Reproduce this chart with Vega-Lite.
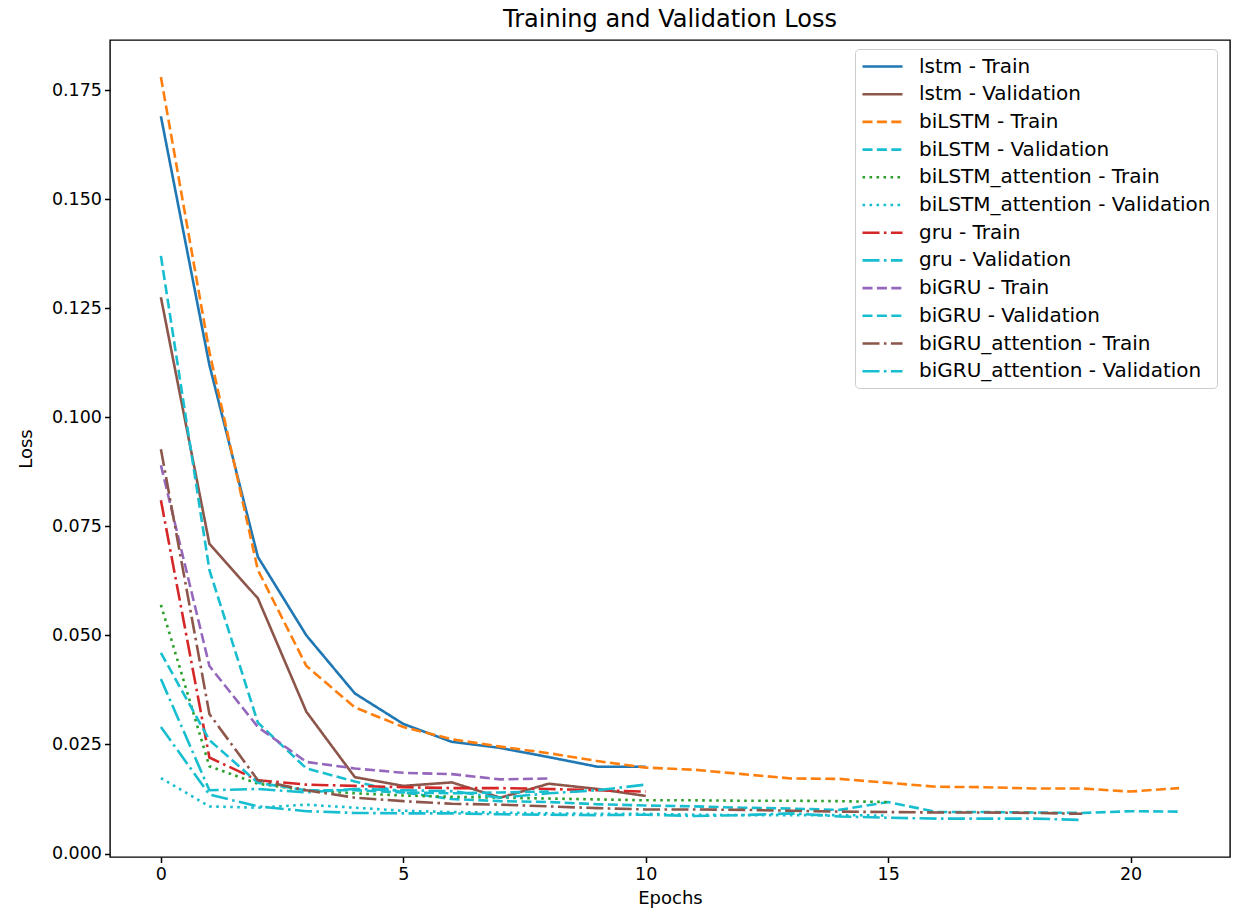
{
  "$schema": "https://vega.github.io/schema/vega-lite/v6.json",
  "width": 1120,
  "height": 817,
  "autosize": {"type": "none"},
  "padding": {"left": 110, "top": 40, "right": 3, "bottom": 58},
  "background": "white",
  "title": {"text": "Training and Validation Loss", "fontSize": 24, "fontWeight": "normal", "font": "DejaVu Sans", "color": "black", "offset": 8},
  "config": {
    "view": {"stroke": "black", "strokeWidth": 1.4},
    "axis": {"domain": false, "grid": false, "ticks": true, "tickColor": "black", "tickSize": 5.5, "tickWidth": 1.5, "labelFont": "DejaVu Sans", "labelFontSize": 17.5, "labelColor": "black", "labelPadding": 3, "titleFont": "DejaVu Sans", "titleFontSize": 18, "titleFontWeight": "normal", "titleColor": "black"},
    "legend": {"labelFont": "DejaVu Sans", "labelFontSize": 20, "labelColor": "black", "labelLimit": 500}
  },
  "data": {"values": [
    {"series":"lstm - Train","epoch":0,"loss":0.169},{"series":"lstm - Train","epoch":1,"loss":0.112},{"series":"lstm - Train","epoch":2,"loss":0.068},{"series":"lstm - Train","epoch":3,"loss":0.050},{"series":"lstm - Train","epoch":4,"loss":0.0367},{"series":"lstm - Train","epoch":5,"loss":0.0297},{"series":"lstm - Train","epoch":6,"loss":0.0256},{"series":"lstm - Train","epoch":7,"loss":0.0242},{"series":"lstm - Train","epoch":8,"loss":0.0221},{"series":"lstm - Train","epoch":9,"loss":0.0199},{"series":"lstm - Train","epoch":10,"loss":0.0199},
    {"series":"lstm - Validation","epoch":0,"loss":0.1275},{"series":"lstm - Validation","epoch":1,"loss":0.071},{"series":"lstm - Validation","epoch":2,"loss":0.0585},{"series":"lstm - Validation","epoch":3,"loss":0.0325},{"series":"lstm - Validation","epoch":4,"loss":0.0175},{"series":"lstm - Validation","epoch":5,"loss":0.0155},{"series":"lstm - Validation","epoch":6,"loss":0.0163},{"series":"lstm - Validation","epoch":7,"loss":0.0128},{"series":"lstm - Validation","epoch":8,"loss":0.016},{"series":"lstm - Validation","epoch":9,"loss":0.0148},{"series":"lstm - Validation","epoch":10,"loss":0.0132},
    {"series":"biLSTM - Train","epoch":0,"loss":0.178},{"series":"biLSTM - Train","epoch":1,"loss":0.115},{"series":"biLSTM - Train","epoch":2,"loss":0.065},{"series":"biLSTM - Train","epoch":3,"loss":0.043},{"series":"biLSTM - Train","epoch":4,"loss":0.0335},{"series":"biLSTM - Train","epoch":5,"loss":0.029},{"series":"biLSTM - Train","epoch":6,"loss":0.0262},{"series":"biLSTM - Train","epoch":7,"loss":0.0245},{"series":"biLSTM - Train","epoch":8,"loss":0.023},{"series":"biLSTM - Train","epoch":9,"loss":0.0212},{"series":"biLSTM - Train","epoch":10,"loss":0.0197},{"series":"biLSTM - Train","epoch":11,"loss":0.0192},{"series":"biLSTM - Train","epoch":12,"loss":0.0182},{"series":"biLSTM - Train","epoch":13,"loss":0.0172},{"series":"biLSTM - Train","epoch":14,"loss":0.0171},{"series":"biLSTM - Train","epoch":15,"loss":0.0162},{"series":"biLSTM - Train","epoch":16,"loss":0.0153},{"series":"biLSTM - Train","epoch":17,"loss":0.0152},{"series":"biLSTM - Train","epoch":18,"loss":0.0149},{"series":"biLSTM - Train","epoch":19,"loss":0.0149},{"series":"biLSTM - Train","epoch":20,"loss":0.0142},{"series":"biLSTM - Train","epoch":21,"loss":0.015},
    {"series":"biLSTM - Validation","epoch":0,"loss":0.137},{"series":"biLSTM - Validation","epoch":1,"loss":0.065},{"series":"biLSTM - Validation","epoch":2,"loss":0.030},{"series":"biLSTM - Validation","epoch":3,"loss":0.0195},{"series":"biLSTM - Validation","epoch":4,"loss":0.0165},{"series":"biLSTM - Validation","epoch":5,"loss":0.014},{"series":"biLSTM - Validation","epoch":6,"loss":0.0125},{"series":"biLSTM - Validation","epoch":7,"loss":0.012},{"series":"biLSTM - Validation","epoch":8,"loss":0.0118},{"series":"biLSTM - Validation","epoch":9,"loss":0.0113},{"series":"biLSTM - Validation","epoch":10,"loss":0.011},{"series":"biLSTM - Validation","epoch":11,"loss":0.0108},{"series":"biLSTM - Validation","epoch":12,"loss":0.0105},{"series":"biLSTM - Validation","epoch":13,"loss":0.0103},{"series":"biLSTM - Validation","epoch":14,"loss":0.01},{"series":"biLSTM - Validation","epoch":15,"loss":0.0118},{"series":"biLSTM - Validation","epoch":16,"loss":0.0095},{"series":"biLSTM - Validation","epoch":17,"loss":0.0095},{"series":"biLSTM - Validation","epoch":18,"loss":0.0094},{"series":"biLSTM - Validation","epoch":19,"loss":0.0093},{"series":"biLSTM - Validation","epoch":20,"loss":0.0097},{"series":"biLSTM - Validation","epoch":21,"loss":0.0096},
    {"series":"biLSTM_attention - Train","epoch":0,"loss":0.057},{"series":"biLSTM_attention - Train","epoch":1,"loss":0.02},{"series":"biLSTM_attention - Train","epoch":2,"loss":0.016},{"series":"biLSTM_attention - Train","epoch":3,"loss":0.0145},{"series":"biLSTM_attention - Train","epoch":4,"loss":0.0138},{"series":"biLSTM_attention - Train","epoch":5,"loss":0.0133},{"series":"biLSTM_attention - Train","epoch":6,"loss":0.013},{"series":"biLSTM_attention - Train","epoch":7,"loss":0.0128},{"series":"biLSTM_attention - Train","epoch":8,"loss":0.0126},{"series":"biLSTM_attention - Train","epoch":9,"loss":0.0124},{"series":"biLSTM_attention - Train","epoch":10,"loss":0.0122},{"series":"biLSTM_attention - Train","epoch":11,"loss":0.0122},{"series":"biLSTM_attention - Train","epoch":12,"loss":0.0121},{"series":"biLSTM_attention - Train","epoch":13,"loss":0.0121},{"series":"biLSTM_attention - Train","epoch":14,"loss":0.012},{"series":"biLSTM_attention - Train","epoch":15,"loss":0.0118},
    {"series":"biLSTM_attention - Validation","epoch":0,"loss":0.0173},{"series":"biLSTM_attention - Validation","epoch":1,"loss":0.0108},{"series":"biLSTM_attention - Validation","epoch":2,"loss":0.0105},{"series":"biLSTM_attention - Validation","epoch":3,"loss":0.0112},{"series":"biLSTM_attention - Validation","epoch":4,"loss":0.0105},{"series":"biLSTM_attention - Validation","epoch":5,"loss":0.0098},{"series":"biLSTM_attention - Validation","epoch":6,"loss":0.0095},{"series":"biLSTM_attention - Validation","epoch":7,"loss":0.0094},{"series":"biLSTM_attention - Validation","epoch":8,"loss":0.0092},{"series":"biLSTM_attention - Validation","epoch":9,"loss":0.0091},{"series":"biLSTM_attention - Validation","epoch":10,"loss":0.0091},{"series":"biLSTM_attention - Validation","epoch":11,"loss":0.0089},{"series":"biLSTM_attention - Validation","epoch":12,"loss":0.0088},{"series":"biLSTM_attention - Validation","epoch":13,"loss":0.0088},{"series":"biLSTM_attention - Validation","epoch":14,"loss":0.0088},{"series":"biLSTM_attention - Validation","epoch":15,"loss":0.0087},
    {"series":"gru - Train","epoch":0,"loss":0.081},{"series":"gru - Train","epoch":1,"loss":0.022},{"series":"gru - Train","epoch":2,"loss":0.0168},{"series":"gru - Train","epoch":3,"loss":0.0158},{"series":"gru - Train","epoch":4,"loss":0.0155},{"series":"gru - Train","epoch":5,"loss":0.0152},{"series":"gru - Train","epoch":6,"loss":0.015},{"series":"gru - Train","epoch":7,"loss":0.015},{"series":"gru - Train","epoch":8,"loss":0.0148},{"series":"gru - Train","epoch":9,"loss":0.0145},{"series":"gru - Train","epoch":10,"loss":0.0142},
    {"series":"gru - Validation","epoch":0,"loss":0.04},{"series":"gru - Validation","epoch":1,"loss":0.0145},{"series":"gru - Validation","epoch":2,"loss":0.0148},{"series":"gru - Validation","epoch":3,"loss":0.014},{"series":"gru - Validation","epoch":4,"loss":0.0148},{"series":"gru - Validation","epoch":5,"loss":0.0145},{"series":"gru - Validation","epoch":6,"loss":0.0143},{"series":"gru - Validation","epoch":7,"loss":0.0128},{"series":"gru - Validation","epoch":8,"loss":0.0138},{"series":"gru - Validation","epoch":9,"loss":0.0145},{"series":"gru - Validation","epoch":10,"loss":0.0158},
    {"series":"biGRU - Train","epoch":0,"loss":0.089},{"series":"biGRU - Train","epoch":1,"loss":0.043},{"series":"biGRU - Train","epoch":2,"loss":0.029},{"series":"biGRU - Train","epoch":3,"loss":0.021},{"series":"biGRU - Train","epoch":4,"loss":0.0195},{"series":"biGRU - Train","epoch":5,"loss":0.0185},{"series":"biGRU - Train","epoch":6,"loss":0.0182},{"series":"biGRU - Train","epoch":7,"loss":0.017},{"series":"biGRU - Train","epoch":8,"loss":0.0172},
    {"series":"biGRU - Validation","epoch":0,"loss":0.046},{"series":"biGRU - Validation","epoch":1,"loss":0.026},{"series":"biGRU - Validation","epoch":2,"loss":0.0162},{"series":"biGRU - Validation","epoch":3,"loss":0.0145},{"series":"biGRU - Validation","epoch":4,"loss":0.0145},{"series":"biGRU - Validation","epoch":5,"loss":0.014},{"series":"biGRU - Validation","epoch":6,"loss":0.0138},{"series":"biGRU - Validation","epoch":7,"loss":0.014},{"series":"biGRU - Validation","epoch":8,"loss":0.0142},
    {"series":"biGRU_attention - Train","epoch":0,"loss":0.0927},{"series":"biGRU_attention - Train","epoch":1,"loss":0.032},{"series":"biGRU_attention - Train","epoch":2,"loss":0.0168},{"series":"biGRU_attention - Train","epoch":3,"loss":0.0145},{"series":"biGRU_attention - Train","epoch":4,"loss":0.0128},{"series":"biGRU_attention - Train","epoch":5,"loss":0.012},{"series":"biGRU_attention - Train","epoch":6,"loss":0.0114},{"series":"biGRU_attention - Train","epoch":7,"loss":0.0112},{"series":"biGRU_attention - Train","epoch":8,"loss":0.0108},{"series":"biGRU_attention - Train","epoch":9,"loss":0.0104},{"series":"biGRU_attention - Train","epoch":10,"loss":0.0101},{"series":"biGRU_attention - Train","epoch":11,"loss":0.0101},{"series":"biGRU_attention - Train","epoch":12,"loss":0.01},{"series":"biGRU_attention - Train","epoch":13,"loss":0.0098},{"series":"biGRU_attention - Train","epoch":14,"loss":0.0096},{"series":"biGRU_attention - Train","epoch":15,"loss":0.0095},{"series":"biGRU_attention - Train","epoch":16,"loss":0.0094},{"series":"biGRU_attention - Train","epoch":17,"loss":0.0094},{"series":"biGRU_attention - Train","epoch":18,"loss":0.0093},{"series":"biGRU_attention - Train","epoch":19,"loss":0.0091},
    {"series":"biGRU_attention - Validation","epoch":0,"loss":0.029},{"series":"biGRU_attention - Validation","epoch":1,"loss":0.0135},{"series":"biGRU_attention - Validation","epoch":2,"loss":0.0108},{"series":"biGRU_attention - Validation","epoch":3,"loss":0.0097},{"series":"biGRU_attention - Validation","epoch":4,"loss":0.0093},{"series":"biGRU_attention - Validation","epoch":5,"loss":0.0092},{"series":"biGRU_attention - Validation","epoch":6,"loss":0.0092},{"series":"biGRU_attention - Validation","epoch":7,"loss":0.009},{"series":"biGRU_attention - Validation","epoch":8,"loss":0.0089},{"series":"biGRU_attention - Validation","epoch":9,"loss":0.0088},{"series":"biGRU_attention - Validation","epoch":10,"loss":0.0089},{"series":"biGRU_attention - Validation","epoch":11,"loss":0.0086},{"series":"biGRU_attention - Validation","epoch":12,"loss":0.0088},{"series":"biGRU_attention - Validation","epoch":13,"loss":0.0092},{"series":"biGRU_attention - Validation","epoch":14,"loss":0.0085},{"series":"biGRU_attention - Validation","epoch":15,"loss":0.0082},{"series":"biGRU_attention - Validation","epoch":16,"loss":0.008},{"series":"biGRU_attention - Validation","epoch":17,"loss":0.008},{"series":"biGRU_attention - Validation","epoch":18,"loss":0.008},{"series":"biGRU_attention - Validation","epoch":19,"loss":0.0077}
  ]},
  "mark": {"type": "line", "strokeWidth": 2.6, "clip": true},
  "encoding": {
    "x": {"field": "epoch", "type": "quantitative", "scale": {"domain": [-1.05, 22.05], "nice": false, "zero": false}, "axis": {"values": [0, 5, 10, 15, 20], "title": "Epochs", "titlePadding": 6}},
    "y": {"field": "loss", "type": "quantitative", "scale": {"domain": [-0.0008, 0.1865], "nice": false, "zero": false}, "axis": {"values": [0, 0.025, 0.05, 0.075, 0.1, 0.125, 0.15, 0.175], "format": ".3f", "title": "Loss", "titlePadding": 16}},
    "color": {"field": "series", "type": "nominal",
      "scale": {"domain": ["lstm - Train","lstm - Validation","biLSTM - Train","biLSTM - Validation","biLSTM_attention - Train","biLSTM_attention - Validation","gru - Train","gru - Validation","biGRU - Train","biGRU - Validation","biGRU_attention - Train","biGRU_attention - Validation"],
        "range": ["#1f77b4","#8c564b","#ff7f0e","#17becf","#2ca02c","#17becf","#d62728","#17becf","#9467bd","#17becf","#8c564b","#17becf"]},
      "legend": {"title": null, "orient": "none", "legendX": 745, "legendY": 9, "symbolType": "M-1,0H3", "symbolSize": 400, "symbolStrokeWidth": 2.6, "rowPadding": 5.7, "labelOffset": 35, "padding": 6, "strokeColor": "#cccccc", "fillColor": "white", "cornerRadius": 4}},
    "strokeDash": {"field": "series", "type": "nominal",
      "scale": {"domain": ["lstm - Train","lstm - Validation","biLSTM - Train","biLSTM - Validation","biLSTM_attention - Train","biLSTM_attention - Validation","gru - Train","gru - Validation","biGRU - Train","biGRU - Validation","biGRU_attention - Train","biGRU_attention - Validation"],
        "range": [[1,0],[1,0],[10,4.4],[10,4.4],[2.6,4.4],[2.6,4.4],[17,4.4,2.6,4.4],[17,4.4,2.6,4.4],[10,4.4],[10,4.4],[17,4.4,2.6,4.4],[17,4.4,2.6,4.4]]},
      "legend": {"title": null, "orient": "none", "legendX": 745, "legendY": 9, "symbolType": "M-1,0H3", "symbolSize": 400, "symbolStrokeWidth": 2.6, "rowPadding": 5.7, "labelOffset": 35, "padding": 6, "strokeColor": "#cccccc", "fillColor": "white", "cornerRadius": 4}}
  }
}
